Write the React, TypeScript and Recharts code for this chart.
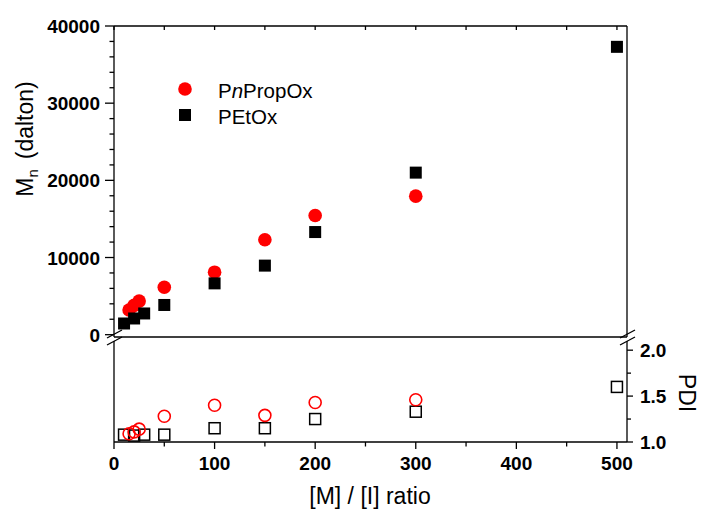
import { Legend, ReferenceLine, Scatter, ScatterChart, XAxis, YAxis } from "recharts";

const W = 701;
const H = 509;
const FONT = "Arial, 'Liberation Sans', Helvetica, sans-serif";
const RED = "#ff0000";

// [M]/[I] ratio and measured values
const propRatio = [15, 20, 25, 50, 100, 150, 200, 300];
const propMn = [3200, 3800, 4350, 6150, 8100, 12300, 15450, 17950];
const propPdi = [1.09, 1.11, 1.14, 1.28, 1.4, 1.29, 1.43, 1.46];

const etoxRatio = [10, 20, 30, 50, 100, 150, 200, 300, 500];
const etoxMn = [1450, 2100, 2750, 3850, 6650, 8950, 13300, 21000, 37300];
const etoxPdi = [1.08, 1.07, 1.08, 1.08, 1.15, 1.15, 1.25, 1.33, 1.6];

const mnTicks = [0, 2000, 4000, 6000, 8000, 10000, 12000, 14000, 16000, 18000, 20000,
  22000, 24000, 26000, 28000, 30000, 32000, 34000, 36000, 38000, 40000];
const ratioTicks = [0, 50, 100, 150, 200, 250, 300, 350, 400, 450, 500];
const pdiTicks = [1, 1.25, 1.5, 1.75, 2];

const propTop = propRatio.map((r, i) => ({ x: r, y: propMn[i] }));
const etoxTop = etoxRatio.map((r, i) => ({ x: r, y: etoxMn[i] }));
const propBottom = propRatio.map((r, i) => ({ x: r, y: propPdi[i] }));
const etoxBottom = etoxRatio.map((r, i) => ({ x: r, y: etoxPdi[i] }));

const axisStroke = { stroke: "#000", strokeWidth: 1.3 };
const labelStyle = { fontFamily: FONT, fontSize: 19, fontWeight: 700, fill: "#000" };

function MnTick({ x, y, payload }: any) {
  const major = payload.value % 10000 === 0;
  return (
    <g>
      <line x1={x - (major ? 9 : 4.5)} x2={x} y1={y} y2={y} {...axisStroke} />
      {major && (
        <text x={x - 14} y={y + 7} textAnchor="end" {...labelStyle}>
          {payload.value}
        </text>
      )}
    </g>
  );
}

function TopTick({ x, y }: any) {
  return <line x1={x} x2={x} y1={y} y2={y + 4} {...axisStroke} />;
}

function RatioTick({ x, y, payload }: any) {
  const major = payload.value % 100 === 0;
  return (
    <g>
      <line x1={x} x2={x} y1={y} y2={y + (major ? 7 : 4.5)} {...axisStroke} />
      {major && (
        <text x={x} y={y + 28} textAnchor="middle" {...labelStyle}>
          {payload.value}
        </text>
      )}
    </g>
  );
}

function PdiTick({ x, y, payload }: any) {
  const major = Math.abs(payload.value * 2 - Math.round(payload.value * 2)) < 1e-6;
  return (
    <g>
      <line x1={x} x2={x + (major ? 6 : 4)} y1={y} y2={y} {...axisStroke} />
      {major && (
        <text x={x + 13} y={y + 7} textAnchor="start" {...labelStyle}>
          {payload.value.toFixed(1)}
        </text>
      )}
    </g>
  );
}

const FilledCircle = (p: any) => <circle cx={p.cx} cy={p.cy} r={6.8} fill={RED} />;
const FilledSquare = (p: any) => <rect x={p.cx - 6} y={p.cy - 6} width={12} height={12} fill="#000" />;
const OpenCircle = (p: any) => (
  <circle cx={p.cx} cy={p.cy} r={6} fill="none" stroke={RED} strokeWidth={1.6} />
);
const OpenSquare = (p: any) => (
  <rect x={p.cx - 5.5} y={p.cy - 5.5} width={11} height={11} fill="none" stroke="#000" strokeWidth={1.5} />
);

function LegendBox() {
  const row = { display: "flex", alignItems: "center", height: 26 };
  const txt = { marginLeft: 24, position: "relative" as const, top: 1.5 };
  return (
    <div style={{ fontFamily: FONT, fontSize: 20.5, color: "#000", textAlign: "left" }}>
      <div style={row}>
        <svg width={18} height={26}>
          <circle cx={9} cy={13} r={6.8} fill={RED} />
        </svg>
        <span style={txt}>
          P<i>n</i>PropOx
        </span>
      </div>
      <div style={row}>
        <svg width={18} height={26}>
          <rect x={3} y={7} width={12} height={12} fill="#000" />
        </svg>
        <span style={txt}>PEtOx</span>
      </div>
    </div>
  );
}

const layer = { position: "absolute" as const, left: 0, top: 0 };

export default function App() {
  return (
    <div style={{ position: "absolute", left: 0, top: 0, width: W, height: H, background: "#fff" }}>
      {/* lower panel: PDI */}
      <div style={layer}>
        <ScatterChart width={W} height={H} margin={{ top: 341, right: 73, bottom: 66, left: 0 }}>
          <XAxis
            xAxisId="ratio"
            type="number"
            dataKey="x"
            domain={[0, 510]}
            ticks={ratioTicks}
            interval={0}
            height={1}
            tickSize={0}
            tickMargin={0}
            tickLine={false}
            axisLine={axisStroke}
            tick={<RatioTick />}
          />
          <YAxis
            yAxisId="pdiL"
            type="number"
            dataKey="y"
            domain={[1, 2.1]}
            width={114}
            tick={false}
            tickLine={false}
            axisLine={axisStroke}
          />
          <YAxis
            yAxisId="pdi"
            orientation="right"
            type="number"
            dataKey="y"
            domain={[1, 2.1]}
            ticks={pdiTicks}
            interval={0}
            width={1}
            tickSize={0}
            tickMargin={0}
            tickLine={false}
            axisLine={axisStroke}
            tick={<PdiTick />}
          />
          <Scatter xAxisId="ratio" yAxisId="pdi" data={etoxBottom} shape={OpenSquare} isAnimationActive={false} />
          <Scatter xAxisId="ratio" yAxisId="pdi" data={propBottom} shape={OpenCircle} isAnimationActive={false} />
        </ScatterChart>
      </div>

      {/* upper panel: Mn */}
      <div style={layer}>
        <ScatterChart width={W} height={H} margin={{ top: 25, right: 74, bottom: 172, left: 0 }}>
          <XAxis
            xAxisId="top"
            orientation="top"
            type="number"
            dataKey="x"
            domain={[0, 510]}
            ticks={ratioTicks}
            interval={0}
            height={1}
            tickSize={0}
            tickMargin={0}
            tickLine={false}
            axisLine={axisStroke}
            tick={<TopTick />}
          />
          <YAxis
            yAxisId="mn"
            type="number"
            dataKey="y"
            domain={[-300, 40000]}
            ticks={mnTicks}
            interval={0}
            width={114}
            tickSize={0}
            tickMargin={0}
            tickLine={false}
            axisLine={axisStroke}
            tick={<MnTick />}
          />
          <ReferenceLine xAxisId="top" yAxisId="mn" x={510} {...axisStroke} />
          <ReferenceLine xAxisId="top" yAxisId="mn" y={-300} {...axisStroke} />
          <Legend
            layout="horizontal"
            verticalAlign="middle"
            align="center"
            wrapperStyle={{ left: 176, top: 76, width: 200 }}
            content={LegendBox}
          />
          <Scatter xAxisId="top" yAxisId="mn" data={propTop} shape={FilledCircle} isAnimationActive={false} />
          <Scatter xAxisId="top" yAxisId="mn" data={etoxTop} shape={FilledSquare} isAnimationActive={false} />
        </ScatterChart>
      </div>

      {/* axis titles and break marks */}
      <svg width={W} height={H} style={{ ...layer, pointerEvents: "none" }}>
        <g fontFamily={FONT} fontSize={23} fill="#000">
          <text x={33} y={139} transform="rotate(-90 33 139)" textAnchor="middle">
            M<tspan fontSize={15} dy={5}>n</tspan>
            <tspan dy={-5} dx={10}>(dalton)</tspan>
          </text>
          <text x={370} y={504} textAnchor="middle">
            [M] / [I] ratio
          </text>
          <text x={679} y={393} transform="rotate(90 679 393)" textAnchor="middle">
            PDI
          </text>
        </g>
        <g stroke="#000" strokeWidth={1.3}>
          <line x1={107} y1={338} x2={122} y2={330} />
          <line x1={107} y1={345} x2={122} y2={337} />
          <line x1={620} y1={338} x2={635} y2={330} />
          <line x1={620} y1={345} x2={635} y2={337} />
        </g>
        <g stroke="#fff" strokeWidth={3}>
          <line x1={114} y1={338.5} x2={114} y2={340} />
          <line x1={627} y1={338.5} x2={627} y2={340} />
        </g>
      </svg>
    </div>
  );
}
